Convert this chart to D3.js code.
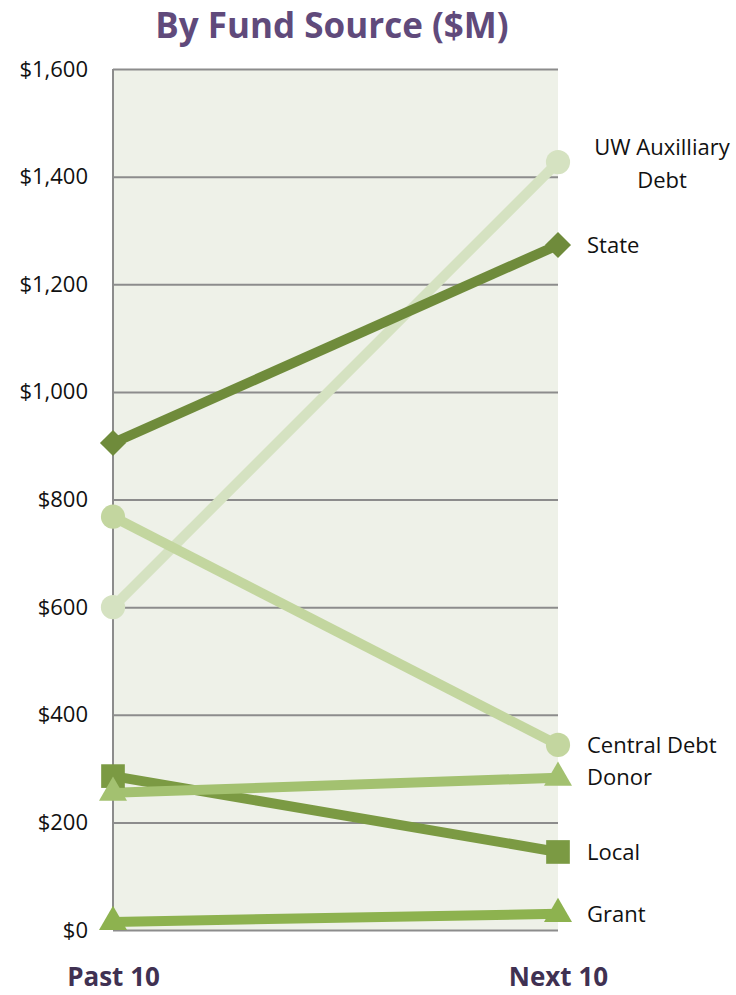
<!DOCTYPE html>
<html>
<head>
<meta charset="utf-8">
<script src="https://cdn.jsdelivr.net/npm/d3@7"></script>
<style>
  body { margin: 0; background: #fff; }
  text { font-family: "Open Sans", sans-serif; }
</style>
</head>
<body>
<div id="chart-area"></div>
<script>
// Data
var periods = ["Past 10", "Next 10"];
var seriesNames = ["UW Auxilliary Debt", "State", "Central Debt", "Donor", "Local", "Grant"];
var uwAux = [600, 1427];
var state = [905, 1273];
var centralDebt = [768, 344];
var donor = [255, 283];
var local = [286, 145];
var grant = [15, 30];
var yTicks = [0, 200, 400, 600, 800, 1000, 1200, 1400, 1600];

var width = 736, height = 995;
var margin = {top: 69, left: 113, right: 178, bottom: 65};
var innerW = width - margin.left - margin.right;
var innerH = height - margin.top - margin.bottom;

var svg = d3.select("#chart-area").append("svg").attr("width", width).attr("height", height);
var g = svg.append("g").attr("transform", "translate(" + margin.left + "," + margin.top + ")");

var x = d3.scalePoint().domain(periods).range([0, innerW]);
var y = d3.scaleLinear().domain([0, 1600]).range([innerH, 0]);

var series = [
  {name: "UW Auxilliary Debt", values: uwAux, color: "#d5e2c1", shape: "circle", label: ["UW Auxilliary", "Debt"]},
  {name: "Central Debt", values: centralDebt, color: "#c3d69f", shape: "circle", label: ["Central Debt"]},
  {name: "State", values: state, color: "#6f8b3b", shape: "diamond", label: ["State"]},
  {name: "Local", values: local, color: "#7b9a43", shape: "square", label: ["Local"]},
  {name: "Donor", values: donor, color: "#a3c170", shape: "triangle", label: ["Donor"]},
  {name: "Grant", values: grant, color: "#8db24f", shape: "triangle", label: ["Grant"]}
];

// plot background
g.append("rect").attr("width", innerW).attr("height", innerH).attr("fill", "#eef1e8");

// Title
svg.append("text").attr("x", 332).attr("y", 38).attr("text-anchor", "middle")
  .attr("font-size", "35px").attr("font-weight", "bold").attr("fill", "#604a7b")
  .text("By Fund Source ($M)");

// Y axis with gridlines
var yAxis = d3.axisLeft(y).tickValues(yTicks).tickSize(-innerW).tickPadding(25)
  .tickFormat(function(d) { return "$" + d3.format(",")(d); });
var yAxisGroup = g.append("g").attr("class", "y axis").call(yAxis);
yAxisGroup.select(".domain").remove();
yAxisGroup.selectAll("line").attr("stroke", "#8c8c8c").attr("stroke-width", 2);
yAxisGroup.selectAll("text").attr("font-size", "22px").attr("fill", "#111").attr("dy", "0.32em");

g.append("line").attr("x1", 0).attr("x2", 0).attr("y1", 0).attr("y2", innerH)
  .attr("stroke", "#8c8c8c").attr("stroke-width", 2);

// X axis labels
var xAxis = d3.axisBottom(x).tickSize(0).tickPadding(38);
var xAxisGroup = g.append("g").attr("transform", "translate(0," + innerH + ")").call(xAxis);
xAxisGroup.select(".domain").remove();
xAxisGroup.selectAll("text").attr("font-size", "26px").attr("font-weight", "bold").attr("fill", "#403152");

// Lines
var line = d3.line().x(function(d, i) { return x(periods[i]); }).y(function(d) { return y(d); });

series.forEach(function(s) {
  g.append("path").datum(s.values).attr("d", line).attr("fill", "none")
    .attr("stroke", s.color).attr("stroke-width", 10);
});

var symbols = {circle: d3.symbolCircle, diamond: d3.symbolSquare, square: d3.symbolSquare, triangle: d3.symbolTriangle};
var sizes = {circle: 460, diamond: 340, square: 560, triangle: 340};

series.forEach(function(s) {
  s.values.forEach(function(v, i) {
    var rot = s.shape == "diamond" ? " rotate(45)" : "";
    g.append("path").attr("d", d3.symbol().type(symbols[s.shape]).size(sizes[s.shape])())
      .attr("transform", "translate(" + x(periods[i]) + "," + y(v) + ")" + rot)
      .attr("fill", s.color);
  });
});

// Series labels
var labelOffsets = {"UW Auxilliary Debt": -15, "State": 0, "Central Debt": 0, "Donor": 0, "Local": 0, "Grant": 0};
series.forEach(function(s) {
  var v = s.values[1];
  var t = g.append("text").attr("font-size", "22px").attr("fill", "#111")
    .attr("y", y(v) + labelOffsets[s.name]).attr("dy", "0.35em");
  if (s.label.length == 2) {
    t.attr("text-anchor", "middle");
    t.append("tspan").attr("x", innerW + 104).text(s.label[0]);
    t.append("tspan").attr("x", innerW + 104).attr("dy", "1.5em").text(s.label[1]);
  } else {
    t.attr("x", innerW + 29).text(s.label[0]);
  }
});
</script>
</body>
</html>
